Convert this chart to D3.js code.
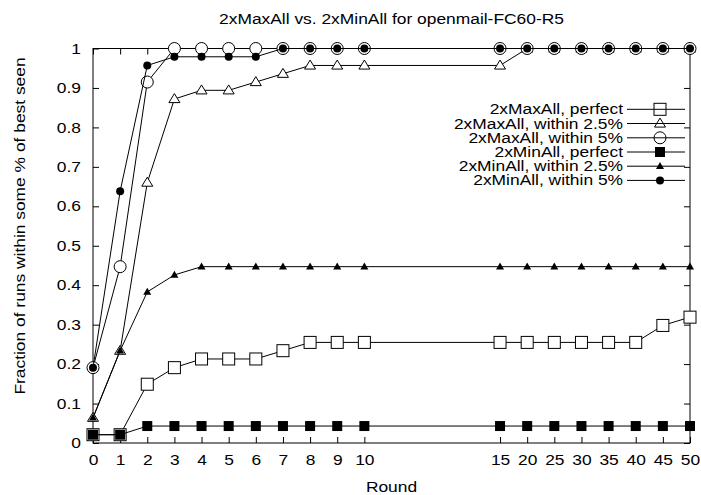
<!DOCTYPE html>
<html>
<head>
<meta charset="utf-8">
<script src="https://cdn.jsdelivr.net/npm/d3@7/dist/d3.min.js"></script>
<style>
  body { margin: 0; background: #fff; }
  svg { display: block; font-family: "Liberation Sans", Arial, sans-serif; }
  text { fill: #000; }
</style>
</head>
<body>
<svg id="chart" width="701" height="495"></svg>
<script>
// data (runs out of 47)
var rounds = [0, 1, 2, 3, 4, 5, 6, 7, 8, 9, 10, 15, 20, 25, 30, 35, 40, 45, 50];
var xTicks = [0, 1, 2, 3, 4, 5, 6, 7, 8, 9, 10, 15, 20, 25, 30, 35, 40, 45, 50];
var yTicks = [0, 0.1, 0.2, 0.3, 0.4, 0.5, 0.6, 0.7, 0.8, 0.9, 1];

var maxPerfect = [0.021, 0.021, 0.149, 0.191, 0.213, 0.213, 0.213, 0.234, 0.255, 0.255, 0.255, 0.255, 0.255, 0.255, 0.255, 0.255, 0.255, 0.298, 0.319];
var max25 = [0.064, 0.234, 0.660, 0.872, 0.894, 0.894, 0.915, 0.936, 0.957, 0.957, 0.957, 0.957, 1, 1, 1, 1, 1, 1, 1];
var max5 = [0.191, 0.447, 0.915, 1, 1, 1, 1, 1, 1, 1, 1, 1, 1, 1, 1, 1, 1, 1, 1];
var minPerfect = [0.021, 0.021, 0.043, 0.043, 0.043, 0.043, 0.043, 0.043, 0.043, 0.043, 0.043, 0.043, 0.043, 0.043, 0.043, 0.043, 0.043, 0.043, 0.043];
var min25 = [0.064, 0.234, 0.383, 0.426, 0.447, 0.447, 0.447, 0.447, 0.447, 0.447, 0.447, 0.447, 0.447, 0.447, 0.447, 0.447, 0.447, 0.447, 0.447];
var min5 = [0.191, 0.638, 0.957, 0.979, 0.979, 0.979, 0.979, 1, 1, 1, 1, 1, 1, 1, 1, 1, 1, 1, 1];

var seriesNames = ["2xMaxAll, perfect", "2xMaxAll, within 2.5%", "2xMaxAll, within 5%",
  "2xMinAll, perfect", "2xMinAll, within 2.5%", "2xMinAll, within 5%"];
var seriesValues = [maxPerfect, max25, max5, minPerfect, min25, min5];
var seriesMarks = ["openSquare", "openTriangle", "openCircle", "square", "triangle", "circle"];

var svg = d3.select("#chart");
var fontSize = 14.5, stretchX = 1.2;
var plotL = 93, plotR = 690, plotT = 48.5, plotB = 443;

// the original font runs wider than Liberation Sans, so widen text around its anchor
function stretch(sel) {
  sel.each(function() {
    var t = d3.select(this);
    var ax = +(t.attr("x") || 0);
    var prev = t.attr("transform") || "";
    t.attr("transform", `${prev} translate(${ax},0) scale(${stretchX},1) translate(${-ax},0)`);
  });
}

// x axis jumps: 0..15 one unit per step, 15..50 five units per step
var x = d3.scaleLinear().domain([0, 15, 50]).range([plotL, plotL + 15 * (plotR - plotL) / 22, plotR]);
var y = d3.scaleLinear().domain([0, 1]).range([plotB, plotT]);

svg.append("text")
  .attr("x", (plotL + plotR) / 2).attr("y", 24)
  .attr("text-anchor", "middle").attr("font-size", fontSize)
  .text("2xMaxAll vs. 2xMinAll for openmail-FC60-R5")
  .call(stretch);

svg.append("text")
  .attr("transform", "translate(25,226) rotate(-90)")
  .attr("text-anchor", "middle").attr("font-size", fontSize)
  .text("Fraction of runs within some % of best seen")
  .call(stretch);

svg.append("text")
  .attr("x", (plotL + plotR) / 2).attr("y", 492)
  .attr("text-anchor", "middle").attr("font-size", fontSize)
  .text("Round")
  .call(stretch);

// axes with inward ticks, mirrored on top and right
function styleAxis(g) {
  g.select(".domain").remove();
  g.selectAll("line").attr("stroke", "#000");
  g.selectAll("text").attr("font-size", fontSize).attr("font-family", "Liberation Sans, Arial, sans-serif").call(stretch);
}
svg.append("g").attr("transform", `translate(0,${plotB})`)
  .call(d3.axisBottom(x).tickValues(xTicks).tickSize(-6).tickPadding(12).tickFormat(d3.format("d")))
  .call(styleAxis);
svg.append("g").attr("transform", `translate(0,${plotT})`)
  .call(d3.axisTop(x).tickValues(xTicks).tickSize(-6).tickFormat(""))
  .call(styleAxis);
svg.append("g").attr("transform", `translate(${plotL},0)`)
  .call(d3.axisLeft(y).tickValues(yTicks).tickSize(-6).tickPadding(12).tickFormat(d => d === 0 || d === 1 ? d : d3.format(".1f")(d)))
  .call(styleAxis);
svg.append("g").attr("transform", `translate(${plotR},0)`)
  .call(d3.axisRight(y).tickValues(yTicks).tickSize(-6).tickFormat(""))
  .call(styleAxis);

svg.append("rect")
  .attr("x", plotL).attr("y", plotT).attr("width", plotR - plotL).attr("height", plotB - plotT)
  .attr("fill", "none").attr("stroke", "#000");

function drawMark(g, kind, cx, cy, openFill) {
  if (kind === "openSquare" || kind === "square") {
    var s = kind === "square" ? 10 : 12;
    g.append("rect").attr("x", cx - s / 2).attr("y", cy - s / 2).attr("width", s).attr("height", s)
      .attr("fill", kind === "square" ? "#000" : openFill).attr("stroke", kind === "square" ? "none" : "#000");
  } else if (kind === "openCircle" || kind === "circle") {
    var r = kind === "circle" ? 4 : 6;
    g.append("circle").attr("cx", cx).attr("cy", cy).attr("r", r)
      .attr("fill", kind === "circle" ? "#000" : openFill).attr("stroke", kind === "circle" ? "none" : "#000");
  } else {
    var w = kind === "triangle" ? 8 : 11, h = kind === "triangle" ? 7 : 9;
    g.append("path")
      .attr("d", `M${cx},${cy - h * 0.6}L${cx + w / 2},${cy + h * 0.4}L${cx - w / 2},${cy + h * 0.4}Z`)
      .attr("fill", kind === "triangle" ? "#000" : openFill).attr("stroke", kind === "triangle" ? "none" : "#000");
  }
}

var line = d3.line().x((d, i) => x(rounds[i])).y(d => y(d));

seriesValues.forEach((vals, k) => {
  var g = svg.append("g");
  g.append("path").attr("d", line(vals)).attr("fill", "none").attr("stroke", "#000").attr("stroke-width", 1);
  vals.forEach((v, i) => drawMark(g, seriesMarks[k], x(rounds[i]), y(v), "#fff"));
});

// legend
var legendY = [109.3, 123.5, 137.8, 152, 166.2, 180.4];
seriesNames.forEach((name, k) => {
  var g = svg.append("g");
  g.append("text").attr("x", 623).attr("y", legendY[k]).attr("dy", "0.35em")
    .attr("text-anchor", "end").attr("font-size", fontSize).text(name)
    .call(stretch);
  g.append("line").attr("x1", 627).attr("x2", 685).attr("y1", legendY[k]).attr("y2", legendY[k]).attr("stroke", "#000");
  drawMark(g, seriesMarks[k], 660, legendY[k], "none");
});
</script>
</body>
</html>
